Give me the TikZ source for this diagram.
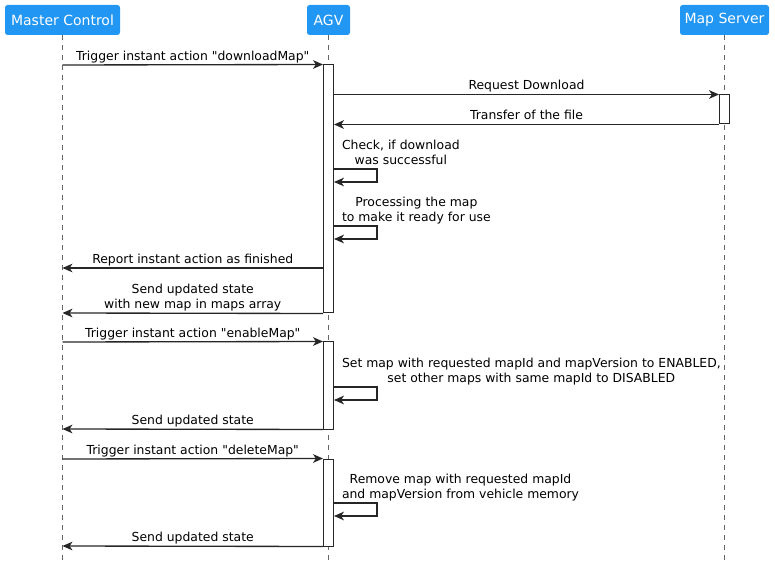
\documentclass[tikz,border=0pt]{standalone}
\usepackage{fontspec}
\setmainfont{DejaVu Sans}
\definecolor{headblue}{RGB}{33,150,243}
\usetikzlibrary{arrows.meta,fit,calc}

\begin{document}
\begin{tikzpicture}[x=0.75pt, y=-0.75pt,
    every node/.style={font=\fontsize{9.3}{11.25}\selectfont},
    head/.style={fill=headblue, rounded corners=2pt, text=white, font=\fontsize{10.5}{12}\selectfont, minimum height=22.5pt, inner xsep=0pt},
    lifeline/.style={draw=black!60, line width=0.6pt, dash pattern=on 3.75pt off 3.75pt},
    act/.style={draw=black!85, fill=white, line width=0.75pt, inner sep=0pt, minimum width=7.5pt},
    msg/.style={draw=black!85, line width=1pt, -{Stealth[length=7.5pt,width=6.5pt,inset=2.2pt]}},
    msglabel/.style={align=center, inner xsep=1pt, inner ysep=1pt, text depth=2pt, anchor=south},
    selflabel/.style={align=center, inner xsep=0pt, inner ysep=1pt, text depth=2pt, anchor=south west, xshift=5.5pt}]
    \useasboundingbox (0,0) rectangle (775,570);

    % Participants
    \node[head, minimum width=86.25pt] (mc) at (62.5,20) {Master Control};
    \node[head, minimum width=32.25pt] (agv) at (328.5,20) {AGV};
    \node[head, minimum width=66.75pt] (ms) at (724.5,20) {Map Server};

    % Lifelines
    \coordinate (mcend) at (62.5,560);
    \coordinate (agvend) at (328.5,560);
    \coordinate (msend) at (724.5,560);
    \draw[lifeline] (mc.south) -- (mcend);
    \draw[lifeline] (agv.south) -- (agvend);
    \draw[lifeline] (ms.south) -- (msend);

    % Message rows on the Master Control lifeline
    \coordinate (m1) at (62.5,65);
    \coordinate (m2) at (62.5,268);
    \coordinate (m3) at (62.5,313);
    \coordinate (m4) at (62.5,342);
    \coordinate (m5) at (62.5,429);
    \coordinate (m6) at (62.5,459);
    \coordinate (m7) at (62.5,546);
    \coordinate (ms1) at (724.5,95);
    \coordinate (ms2) at (724.5,124);

    % Activations
    \node[act, fit={(agv |- m1) (agv |- m3)}] (act1) {};
    \node[act, fit=(ms1)(ms2)] (act2) {};
    \node[act, fit={(agv |- m4) (agv |- m5)}] (act3) {};
    \node[act, fit={(agv |- m6) (agv |- m7)}] (act4) {};

    % Self messages
    \coordinate (s1) at (334,169);
    \coordinate (s2) at (334,226);
    \coordinate (s3) at (334,387);
    \coordinate (s4) at (334,503);

    % downloadMap
    \draw[msg] (m1) -- (act1.north west) node[msglabel, midway] {Trigger instant action \textquotedbl downloadMap\textquotedbl};
    \draw[msg] (act1.east |- act2.north) -- (act2.north west) node[msglabel, midway] {Request Download};
    \draw[msg] (act2.south west) -- (act1.east |- act2.south) node[msglabel, midway] {Transfer of the file};
    \draw[msg] (s1) node[selflabel] {Check, if download\\was successful} -- ++(43,0) |- ++(-43,13);
    \draw[msg] (s2) node[selflabel] {Processing the map\\to make it ready for use} -- ++(43,0) |- ++(-43,13);
    \draw[msg] (act1.west |- m2) -- (m2) node[msglabel, midway] {Report instant action as finished};
    \draw[msg] (act1.south west) -- (m3) node[msglabel, midway] {Send updated state\\with new map in maps array};

    % enableMap
    \draw[msg] (m4) -- (act3.north west) node[msglabel, midway] {Trigger instant action \textquotedbl enableMap\textquotedbl};
    \draw[msg] (s3) node[selflabel] {Set map with requested mapId and mapVersion to ENABLED,\\set other maps with same mapId to DISABLED} -- ++(43,0) |- ++(-43,13);
    \draw[msg] (act3.south west) -- (m5) node[msglabel, midway] {Send updated state};

    % deleteMap
    \draw[msg] (m6) -- (act4.north west) node[msglabel, midway] {Trigger instant action \textquotedbl deleteMap\textquotedbl};
    \draw[msg] (s4) node[selflabel] {Remove map with requested mapId\\and mapVersion from vehicle memory} -- ++(43,0) |- ++(-43,13);
    \draw[msg] (act4.south west) -- (m7) node[msglabel, midway] {Send updated state};
\end{tikzpicture}
\end{document}
